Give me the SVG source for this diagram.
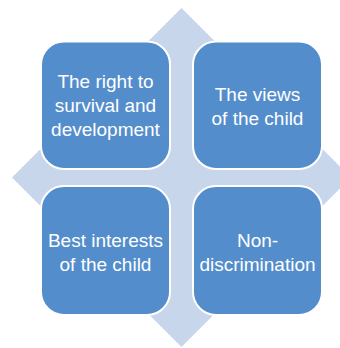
<svg xmlns="http://www.w3.org/2000/svg" width="340" height="348" viewBox="0 0 340 348">
  <style>
    .box { fill: #548DCB; stroke: #FFFFFF; stroke-width: 2; }
    .label { font-family: "Liberation Sans", Arial, sans-serif; font-size: 19px; fill: #FFFFFF; text-anchor: middle; }
    .cross { fill: #C8D6EB; }
  </style>

  <!-- four-way arrow behind the boxes -->
  <g id="connectors">
    <path class="cross" d="M181.5,8 L241.5,68 L201.5,68 L201.5,157.5 L291,157.5 L291,117.5 L351,177.5 L291,237.5 L291,197.5 L201.5,197.5 L201.5,287 L241.5,287 L181.5,347 L121.5,287 L161.5,287 L161.5,197.5 L72,197.5 L72,237.5 L12,177.5 L72,117.5 L72,157.5 L161.5,157.5 L161.5,68 L121.5,68 Z"/>
  </g>

  <g id="survival">
    <rect class="box" x="41" y="41.5" width="129" height="127.5" rx="23"/>
    <text class="label" x="105.5" y="87.5">The right to</text>
    <text class="label" x="105.5" y="111.5">survival and</text>
    <text class="label" x="105.5" y="135.5">development</text>
  </g>

  <g id="views">
    <rect class="box" x="193" y="41.5" width="129" height="127.5" rx="23"/>
    <text class="label" x="257.5" y="100.5">The views</text>
    <text class="label" x="257.5" y="124.5">of the child</text>
  </g>

  <g id="best-interests">
    <rect class="box" x="41" y="186" width="129" height="129" rx="23"/>
    <text class="label" x="105.5" y="246.5">Best interests</text>
    <text class="label" x="105.5" y="270.5">of the child</text>
  </g>

  <g id="non-discrimination">
    <rect class="box" x="193" y="186" width="129" height="129" rx="23"/>
    <text class="label" x="257.5" y="246.5">Non-</text>
    <text class="label" x="257.5" y="270.5">discrimination</text>
  </g>
</svg>
